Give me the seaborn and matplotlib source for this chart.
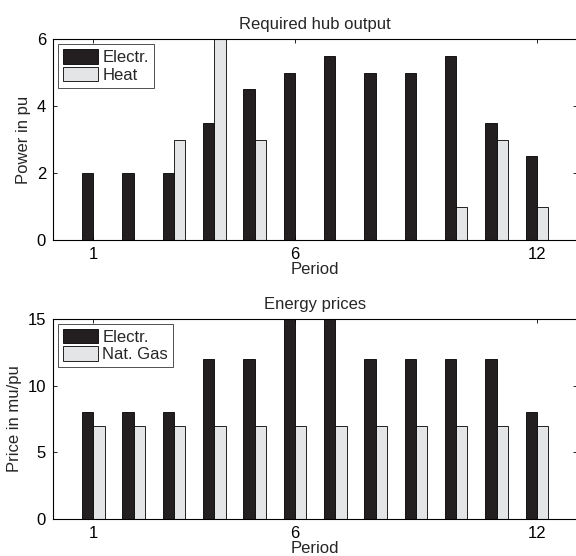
import numpy as np
import pandas as pd
import matplotlib
matplotlib.use("Agg")
import matplotlib.pyplot as plt
import seaborn as sns

periods = list(range(1, 13))
electr_out = [2, 2, 2, 3.5, 4.5, 5, 5.5, 5, 5, 5.5, 3.5, 2.5]
heat_out = [0, 0, 3, 6, 3, 0, 0, 0, 0, 1, 3, 1]
electr_price = [8, 8, 8, 12, 12, 15, 15, 12, 12, 12, 12, 8]
gas_price = [7, 7, 7, 7, 7, 7, 7, 7, 7, 7, 7, 7]
xtick_labels = ["1", "6", "12"]

sns.set_theme(style="white")
plt.rcParams['font.family'] = ['Liberation Sans', 'DejaVu Sans']
FS = 12
plt.rcParams['font.size'] = FS

dark = "#231f20"
light = "#e4e5e6"

fig = plt.figure(figsize=(5.76, 5.56), dpi=100)
ax1 = fig.add_axes([0.092, 0.568, 0.910, 0.3615])
ax2 = fig.add_axes([0.092, 0.0665, 0.910, 0.360])

df1 = pd.DataFrame({
    "Period": periods * 2,
    "value": electr_out + heat_out,
    "series": ["Electr."] * 12 + ["Heat"] * 12,
})
df2 = pd.DataFrame({
    "Period": periods * 2,
    "value": electr_price + gas_price,
    "series": ["Electr."] * 12 + ["Nat. Gas"] * 12,
})

for ax, df, ylim, yticks, ylabel, title, names in [
    (ax1, df1, (0, 6), [0, 2, 4, 6], "Power in pu", "Required hub output", ["Electr.", "Heat"]),
    (ax2, df2, (0, 15), [0, 5, 10, 15], "Price in mu/pu", "Energy prices", ["Electr.", "Nat. Gas"]),
]:
    sns.barplot(data=df, x="Period", y="value", hue="series", hue_order=names,
                palette=[dark, light], width=0.56, gap=0, ax=ax,
                edgecolor="black", linewidth=0.6, saturation=1, errorbar=None)
    ax.set_xlim(-1, 12)
    ax.set_ylim(*ylim)
    ax.set_xticks([0, 5, 11])
    ax.set_xticklabels(xtick_labels)
    ax.set_yticks(yticks)
    ax.set_xlabel("Period", fontsize=FS, labelpad=0)
    ax.set_ylabel(ylabel, fontsize=FS, labelpad=4)
    ax.set_title(title, fontsize=FS, pad=7)
    ax.tick_params(axis="x", pad=5)
    ax.tick_params(axis="y", pad=5)
    ax.tick_params(direction="in", length=3, width=0.6, top=True, right=True,
                   bottom=True, left=True, labelsize=FS, colors="black")
    for s in ax.spines.values():
        s.set_color("black")
        s.set_linewidth(0.8)
    leg = ax.legend(loc="upper left", frameon=True, fancybox=False, fontsize=FS,
                    handlelength=2.1, handleheight=0.95, borderaxespad=0.3,
                    labelspacing=0.1, handletextpad=0.25, borderpad=0.3)
    leg.get_frame().set_edgecolor("black")
    leg.get_frame().set_linewidth(0.6)
    leg.set_title(None)

fig.savefig("out.png", dpi=100)
